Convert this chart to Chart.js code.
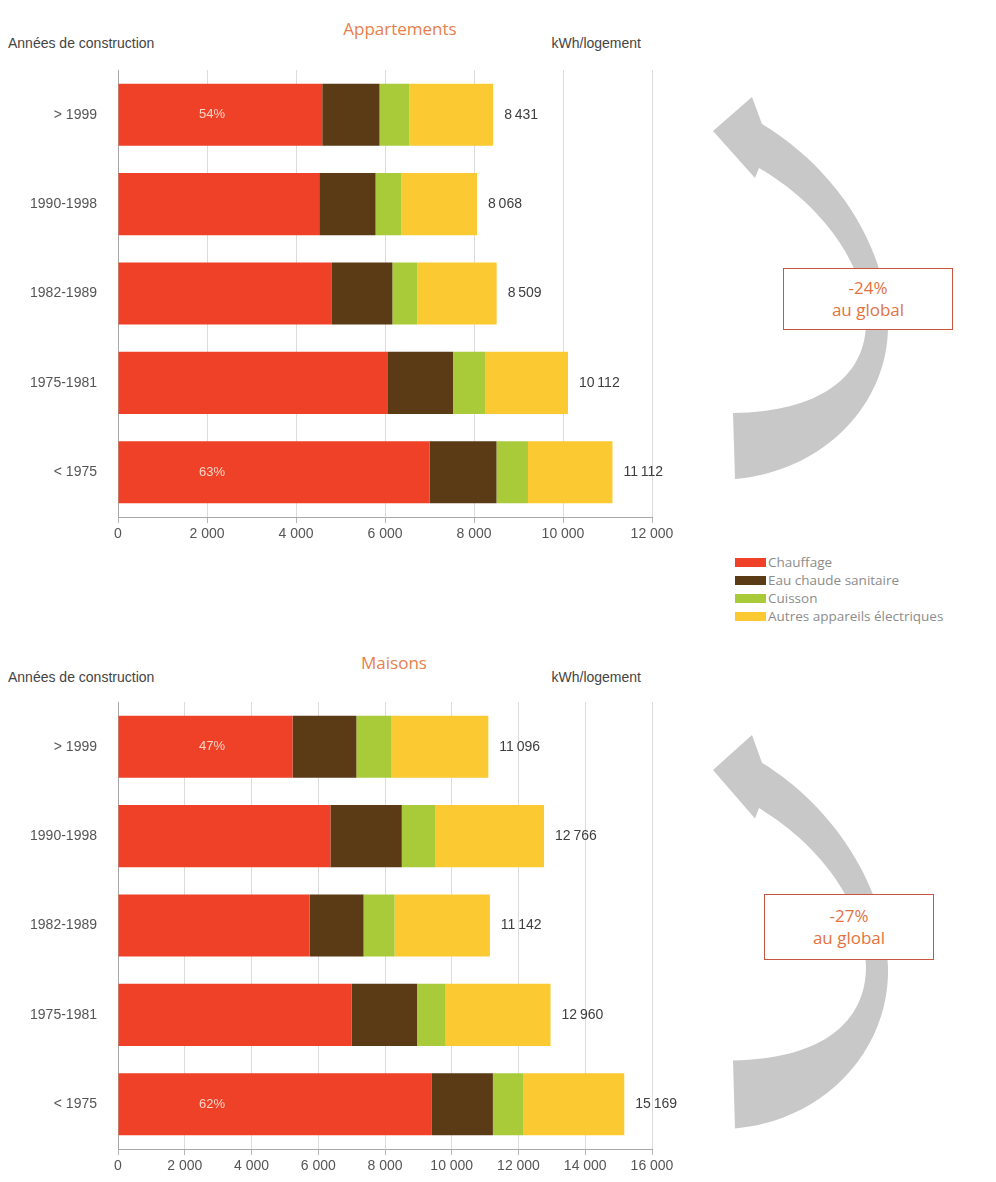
<!DOCTYPE html>
<html lang="fr">
<head>
<meta charset="utf-8">
<title>Consommation d'énergie par logement selon l'année de construction</title>
<script src="https://cdn.jsdelivr.net/npm/chart.js@4.4.1/dist/chart.umd.min.js"></script>
<style>
  html, body { margin: 0; padding: 0; background: #fff; }
  body { width: 996px; height: 1182px; position: relative; overflow: hidden;
         font-family: "Liberation Sans", Arial, sans-serif; }
  .panel { position: absolute; left: 0; width: 700px; height: 560px; }
  .panel canvas { display: block; }
  .title { position: absolute; font-family: "Open Sans", sans-serif; font-size: 17px;
           color: #E8804A; transform: translate(-50%, -50%); white-space: nowrap; }
  .hdr { position: absolute; font-size: 14px; color: #444; white-space: nowrap;
         transform: translateY(-50%); }
  .hdr.right { transform: translate(-100%, -50%); }
  #arrows { position: absolute; left: 0; top: 0; }
  .box { position: absolute; background: #fff; border: 1.5px solid #C9553E;
         box-sizing: border-box; display: flex; flex-direction: column;
         align-items: center; justify-content: center;
         font-family: "Open Sans", sans-serif; font-size: 17px; line-height: 22px; color: #E2733F; }
  #legend { position: absolute; left: 735px; top: 553px; font-family: "Open Sans", sans-serif;
            font-size: 13.5px; color: #8c8c8c; }
  #legend .row { display: flex; align-items: center; height: 18px; white-space: nowrap; }
  #legend .sw { width: 31px; height: 9px; margin-right: 2px; }
</style>
</head>
<body>

<svg id="arrows" width="996" height="1182" xmlns="http://www.w3.org/2000/svg">
  <path id="arcTop" fill="#C8C8C8"
        d="M 735 479 C 822 472, 890 405, 888 322 C 886 245, 835 168, 762 124 L 752 97 L 713 131 L 755 178 L 759 168 C 818 202, 866 262, 866 322 C 866 380, 815 412, 733 413 Z"/>
  <use href="#arcTop" transform="translate(0 770) scale(1 1.03) translate(0 -131)"/>
</svg>

<div class="title" style="left:400px; top:28px;">Appartements</div>
<div class="hdr" style="left:8px; top:43px;">Années de construction</div>
<div class="hdr right" style="left:641px; top:43px;">kWh/logement</div>
<div class="panel" style="top:0px;"><canvas id="chartAppartements" width="700" height="560"></canvas></div>

<div class="title" style="left:394px; top:662px;">Maisons</div>
<div class="hdr" style="left:8px; top:677px;">Années de construction</div>
<div class="hdr right" style="left:641px; top:677px;">kWh/logement</div>
<div class="panel" style="top:632px;"><canvas id="chartMaisons" width="700" height="560"></canvas></div>

<div class="box" style="left:783px; top:268px; width:170px; height:62px;"><div>-24%</div><div>au global</div></div>
<div class="box" style="left:764px; top:894px; width:170px; height:66px;"><div>-27%</div><div>au global</div></div>

<div id="legend"></div>

<script>
// Périodes de construction (du plus récent au plus ancien)
const periods = ['> 1999', '1990-1998', '1982-1989', '1975-1981', '< 1975'];

// Postes de consommation
const usages = ['Chauffage', 'Eau chaude sanitaire', 'Cuisson', 'Autres appareils électriques'];
const usageColors = ['#EE4128', '#5B3A16', '#A9CB3A', '#FBC932'];

// Appartements, kWh/logement
const aptHeating  = [4590, 4522, 4807, 6067, 7000];
const aptHotWater = [1287, 1266, 1359, 1461, 1506];
const aptCooking  = [673, 578, 561, 719, 707];
const aptOther    = [1881, 1702, 1782, 1865, 1899];

// Maisons, kWh/logement
const houseHeating  = [5230, 6364, 5742, 7005, 9405];
const houseHotWater = [1913, 2139, 1616, 1955, 1828];
const houseCooking  = [1037, 995, 930, 858, 902];
const houseOther    = [2916, 3268, 2854, 3142, 3034];

// Graduations de l'axe des kWh
const aptTicks   = [0, 2000, 4000, 6000, 8000, 10000, 12000];
const houseTicks = [0, 2000, 4000, 6000, 8000, 10000, 12000, 14000, 16000];

// Lignes portant la part du chauffage
const shareRows = [0, 4];

const fmt = n => String(Math.round(n)).replace(/\B(?=(\d{3})+(?!\d))/g, '\u2009');
const fmtTick = n => String(Math.round(n)).replace(/\B(?=(\d{3})+(?!\d))/g, ' ');

// Totaux et part du chauffage écrits à côté des barres
const barLabels = {
  id: 'barLabels',
  afterDatasetsDraw(chart) {
    const { ctx, chartArea } = chart;
    const ds = chart.data.datasets;
    const metas = ds.map((d, i) => chart.getDatasetMeta(i));
    const last = metas[metas.length - 1];
    const totals = chart.data.labels.map((_, i) => ds.reduce((s, d) => s + d.data[i], 0));
    ctx.save();
    ctx.textBaseline = 'middle';
    ctx.font = '14px "Liberation Sans", Arial, sans-serif';
    ctx.fillStyle = '#3e3e3e';
    ctx.textAlign = 'left';
    totals.forEach((t, i) => {
      const el = last.data[i];
      ctx.fillText(fmt(t), el.x + 11, el.y);
    });
    ctx.font = '13px "Liberation Sans", Arial, sans-serif';
    ctx.fillStyle = '#FDD6C8';
    ctx.textAlign = 'center';
    shareRows.forEach(i => {
      const pct = Math.round(ds[0].data[i] / totals[i] * 100);
      ctx.fillText(pct + '%', chartArea.left + 94, metas[0].data[i].y);
    });
    ctx.restore();
  }
};

function makeChart(id, series, ticks) {
  const tickFont = { family: '"Liberation Sans", Arial, sans-serif', size: 14 };
  return new Chart(document.getElementById(id), {
    type: 'bar',
    data: {
      labels: periods,
      datasets: series.map((data, k) => ({
        label: usages[k],
        data,
        backgroundColor: usageColors[k],
        borderWidth: 0,
        categoryPercentage: 1,
        barPercentage: 0.695
      }))
    },
    options: {
      indexAxis: 'y',
      responsive: false,
      animation: false,
      devicePixelRatio: 1,
      layout: { padding: { top: 70, right: 48, left: 0, bottom: 0 } },
      plugins: { legend: { display: false }, tooltip: { enabled: false } },
      scales: {
        x: {
          stacked: true,
          min: ticks[0],
          max: ticks[ticks.length - 1],
          afterBuildTicks(scale) { scale.ticks = ticks.map(v => ({ value: v })); },
          ticks: { callback: v => fmtTick(v), color: '#555', font: tickFont, padding: 3,
                   maxRotation: 0, autoSkip: false },
          grid: { color: '#DCDCDC', lineWidth: 1, drawTicks: true, tickLength: 6, tickColor: '#B5B5B5' },
          border: { display: true, color: '#A8A8A8', width: 1 },
          afterFit(scale) { scale.height = 43; scale.paddingLeft = 0; scale.paddingRight = 0; }
        },
        y: {
          stacked: true,
          grid: { display: false, drawTicks: false },
          border: { display: true, color: '#A8A8A8', width: 1 },
          ticks: { color: '#555', font: tickFont, padding: 21 },
          afterFit(scale) { scale.width = 118; scale.paddingTop = 0; scale.paddingBottom = 0; }
        }
      }
    },
    plugins: [barLabels]
  });
}

makeChart('chartAppartements', [aptHeating, aptHotWater, aptCooking, aptOther], aptTicks);
makeChart('chartMaisons', [houseHeating, houseHotWater, houseCooking, houseOther], houseTicks);

// Légende commune
const legend = document.getElementById('legend');
usages.forEach((u, k) => {
  const row = document.createElement('div');
  row.className = 'row';
  const sw = document.createElement('span');
  sw.className = 'sw';
  sw.style.background = usageColors[k];
  const tx = document.createElement('span');
  tx.textContent = u;
  row.appendChild(sw);
  row.appendChild(tx);
  legend.appendChild(row);
});
</script>
</body>
</html>
